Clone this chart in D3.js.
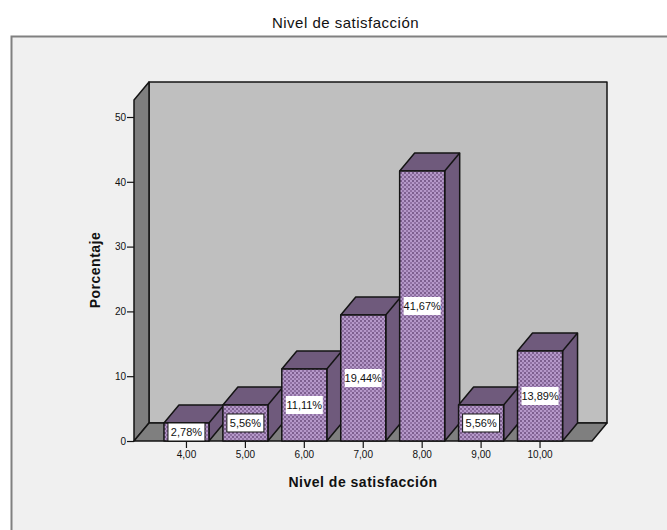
<!DOCTYPE html>
<html>
<head>
<meta charset="utf-8">
<script src="https://cdn.jsdelivr.net/npm/d3@7"></script>
<style>
  html, body { margin: 0; padding: 0; background: #fff; }
  svg { display: block; }
  text { font-family: "Liberation Sans", Arial, sans-serif; fill: #111; }
</style>
</head>
<body>
<svg id="chart" width="667" height="530"></svg>
<script>
const categories = ['4,00', '5,00', '6,00', '7,00', '8,00', '9,00', '10,00'];
const percentages = [2.78, 5.56, 11.11, 19.44, 41.67, 5.56, 13.89];
const yTicks = [0, 10, 20, 30, 40, 50];

const svg = d3.select('#chart');

// the 3d box is faked by shifting everything back by this much
const depth = { x: 15, y: 18 };
const plot = { left: 134, right: 592, top: 100, bottom: 441 };

const xScale = d3.scaleBand()
  .domain(categories)
  .range([157, 569.5])
  .paddingInner(0.236)
  .paddingOuter(0.118);

const yScale = d3.scaleLinear()
  .domain([0, 50])
  .range([plot.bottom, 117]);

const pct = d => d.toFixed(2).replace('.', ',') + '%';
const line = d3.line();

// dither fill of the bar fronts
const pattern = svg.append('defs').append('pattern')
  .attr('id', 'dither')
  .attr('width', 4)
  .attr('height', 4)
  .attr('patternUnits', 'userSpaceOnUse');
pattern.append('rect').attr('width', 4).attr('height', 4).attr('fill', '#b598c9');
pattern.append('rect').attr('width', 2).attr('height', 2).attr('fill', '#7d5f8f');
pattern.append('rect').attr('x', 2).attr('y', 2).attr('width', 2).attr('height', 2).attr('fill', '#8f70a2');

// Panel
svg.append('rect')
  .attr('x', 11.5).attr('y', 36.5)
  .attr('width', 680).attr('height', 520)
  .attr('fill', '#f0f0f0')
  .attr('stroke', '#808080')
  .attr('stroke-width', 2);

const box = svg.append('g')
  .attr('stroke', '#141414')
  .attr('stroke-width', 1.5)
  .attr('stroke-linejoin', 'round');

// Back wall
box.append('rect')
  .attr('x', plot.left + depth.x)
  .attr('y', plot.top - depth.y)
  .attr('width', plot.right - plot.left)
  .attr('height', plot.bottom - plot.top)
  .attr('fill', '#bfbfbf');

// Left wall
box.append('path')
  .attr('d', line([
    [plot.left, plot.bottom],
    [plot.left, plot.top],
    [plot.left + depth.x, plot.top - depth.y],
    [plot.left + depth.x, plot.bottom - depth.y]
  ]) + 'Z')
  .attr('fill', '#7f7f7f');

// Floor
box.append('path')
  .attr('d', line([
    [plot.left, plot.bottom],
    [plot.left + depth.x, plot.bottom - depth.y],
    [plot.right + depth.x, plot.bottom - depth.y],
    [plot.right, plot.bottom]
  ]) + 'Z')
  .attr('fill', '#7f7f7f');

// Bars
const bars = svg.append('g')
  .attr('stroke', '#141414')
  .attr('stroke-width', 1.5)
  .attr('stroke-linejoin', 'round')
  .selectAll('g')
  .data(percentages)
  .join('g');

const barX = (d, i) => xScale(categories[i]);
const bw = xScale.bandwidth();

bars.append('path')
  .attr('fill', '#6f5a7c')
  .attr('d', (d, i) => {
    const x = barX(d, i), y = yScale(d);
    return line([
      [x, y],
      [x + depth.x, y - depth.y],
      [x + bw + depth.x, y - depth.y],
      [x + bw + depth.x, plot.bottom - depth.y],
      [x + bw, plot.bottom],
      [x + bw, y]
    ]) + 'Z';
  });

bars.append('path')
  .attr('fill', 'none')
  .attr('d', (d, i) => {
    const x = barX(d, i), y = yScale(d);
    return line([[x + bw, y], [x + bw + depth.x, y - depth.y]]);
  });

bars.append('rect')
  .attr('x', barX)
  .attr('y', d => yScale(d))
  .attr('width', bw)
  .attr('height', d => plot.bottom - yScale(d))
  .attr('fill', 'url(#dither)');

// Data labels
const labels = svg.append('g')
  .selectAll('g')
  .data(percentages)
  .join('g')
  .attr('transform', (d, i) => `translate(${barX(d, i) + bw / 2}, ${(yScale(d) + plot.bottom) / 2})`);

labels.append('rect')
  .attr('x', -18.5)
  .attr('y', -9)
  .attr('width', 37)
  .attr('height', 18)
  .attr('fill', '#fff')
  .attr('stroke', '#141414')
  .attr('stroke-width', (d, i) => (i === 2 || i === 3 || i === 4 || i === 6) ? 0 : 1);

labels.append('text')
  .attr('text-anchor', 'middle')
  .attr('dy', '0.35em')
  .attr('font-size', 11)
  .text(pct);

// Axes
const yAxis = svg.append('g')
  .attr('transform', `translate(${plot.left}, 0)`)
  .call(d3.axisLeft(yScale).tickValues(yTicks).tickSize(7).tickPadding(1));

const xAxis = svg.append('g')
  .attr('transform', `translate(0, ${plot.bottom})`)
  .call(d3.axisBottom(xScale).tickSize(7).tickPadding(3));

[yAxis, xAxis].forEach(axis => {
  axis.select('.domain').remove();
  axis.selectAll('.tick line').attr('stroke', '#141414').attr('stroke-width', 1.2);
  axis.selectAll('.tick text')
    .attr('font-size', 10)
    .attr('font-family', '"Liberation Sans", Arial, sans-serif')
    .attr('fill', '#111');
});

// Titles
svg.append('text')
  .attr('x', 345.5)
  .attr('y', 28)
  .attr('text-anchor', 'middle')
  .attr('font-size', 15)
  .attr('letter-spacing', 0.5)
  .text('Nivel de satisfacción');

svg.append('text')
  .attr('x', 363)
  .attr('y', 487)
  .attr('text-anchor', 'middle')
  .attr('font-size', 14)
  .attr('font-weight', 'bold')
  .attr('letter-spacing', 0.5)
  .text('Nivel de satisfacción');

svg.append('text')
  .attr('transform', 'translate(100, 270) rotate(-90)')
  .attr('text-anchor', 'middle')
  .attr('font-size', 14)
  .attr('font-weight', 'bold')
  .attr('letter-spacing', 0.5)
  .text('Porcentaje');
</script>
</body>
</html>
